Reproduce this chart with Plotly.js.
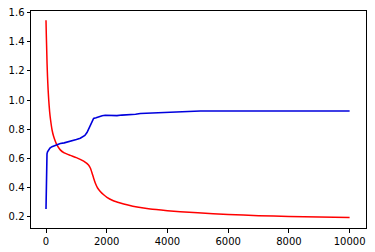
<!DOCTYPE html>
<html>
<head>
<meta charset="utf-8">
<script src="https://cdn.plot.ly/plotly-3.0.1.min.js"></script>
<style>html,body{margin:0;padding:0;background:#fff;}#chart{width:375px;height:252px;}</style>
</head>
<body>
<div id="chart"></div>
<script>
// Loss curve (red)
const lossX = [0, 10, 20, 35, 50, 70, 90, 120, 150, 200, 250, 300, 360, 470, 600, 800, 1000, 1240, 1400, 1460, 1514, 1570, 1623, 1700, 1788, 1900, 2008, 2200, 2447, 2700, 3000, 3434, 4000, 4422, 5000, 6000, 7000, 8000, 9000, 10000];
const lossY = [1.546, 1.45, 1.37, 1.25, 1.16, 1.07, 1.0, 0.92, 0.865, 0.795, 0.752, 0.722, 0.693, 0.659, 0.638, 0.621, 0.606, 0.582, 0.556, 0.535, 0.503, 0.465, 0.432, 0.398, 0.375, 0.352, 0.334, 0.313, 0.296, 0.282, 0.268, 0.254, 0.243, 0.236, 0.228, 0.217, 0.209, 0.203, 0.199, 0.196];
// Accuracy curve (blue)
const accX = [0, 5, 15, 25, 33, 50, 80, 130, 197, 300, 400, 471, 600, 700, 800, 900, 1000, 1129, 1200, 1280, 1350, 1400, 1450, 1515, 1568, 1650, 1750, 1850, 1950, 2050, 2200, 2337, 2500, 2776, 2950, 3106, 3500, 3874, 4422, 5082, 6000, 7000, 8000, 9000, 10000];
const accY = [0.255, 0.40, 0.55, 0.60, 0.632, 0.645, 0.66, 0.672, 0.681, 0.69, 0.697, 0.703, 0.707, 0.712, 0.718, 0.724, 0.73, 0.739, 0.746, 0.758, 0.778, 0.80, 0.83, 0.862, 0.874, 0.879, 0.887, 0.893, 0.896, 0.894, 0.894, 0.893, 0.897, 0.898, 0.903, 0.908, 0.911, 0.916, 0.92, 0.925, 0.925, 0.925, 0.925, 0.925, 0.925];
const xTicks = [0, 2000, 4000, 6000, 8000, 10000];
const yTicks = [0.2, 0.4, 0.6, 0.8, 1.0, 1.2, 1.4, 1.6];

const traces = [
  {x: lossX, y: lossY, mode: 'lines', line: {color: '#ff0000', width: 1.5, shape: 'spline', smoothing: 0.5}, hoverinfo: 'skip'},
  {x: accX, y: accY, mode: 'lines', line: {color: '#0000dd', width: 1.6}, hoverinfo: 'skip'}
];
const axisCommon = {
  showline: true, mirror: true, linecolor: '#000', linewidth: 1,
  ticks: 'outside', ticklen: 3.5, tickwidth: 1, tickcolor: '#000',
  showgrid: false, zeroline: false,
  tickfont: {family: 'DejaVu Sans', size: 10, color: '#000'}
};
const layout = {
  width: 375, height: 252,
  margin: {l: 31, r: 9, t: 11, b: 24, pad: 0},
  paper_bgcolor: '#fff', plot_bgcolor: '#fff',
  showlegend: false,
  xaxis: Object.assign({}, axisCommon, {range: [-494, 10540], tickvals: xTicks, ticktext: xTicks.map(String)}),
  yaxis: Object.assign({}, axisCommon, {range: [0.1245, 1.609], tickvals: yTicks, ticktext: yTicks.map(v => v.toFixed(1))})
};
Plotly.newPlot('chart', traces, layout, {staticPlot: true, displayModeBar: false});
</script>
</body>
</html>
